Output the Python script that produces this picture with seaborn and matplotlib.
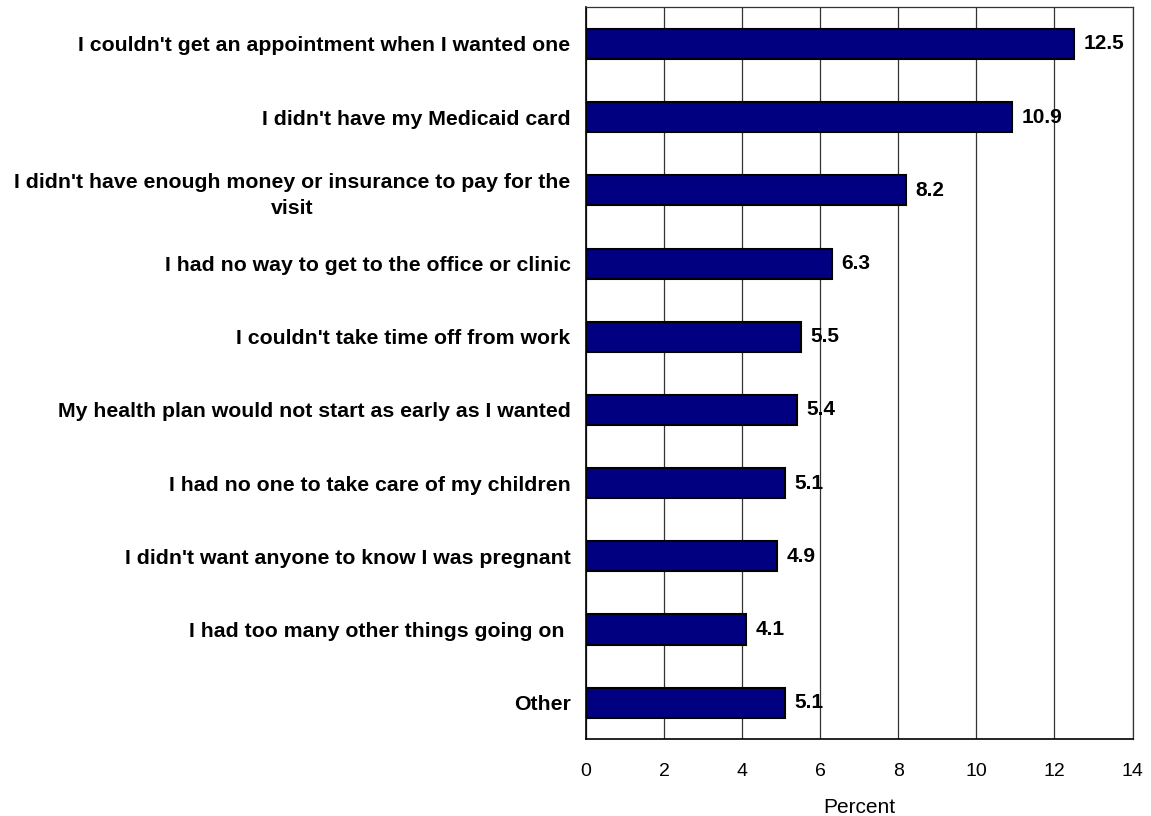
import seaborn as sns
import matplotlib.pyplot as plt
import pandas as pd
import numpy as np

reasons = [
    "I couldn't get an appointment when I wanted one",
    "I didn't have my Medicaid card",
    "I didn't have enough money or insurance to pay for the\nvisit",
    "I had no way to get to the office or clinic",
    "I couldn't take time off from work",
    "My health plan would not start as early as I wanted",
    "I had no one to take care of my children",
    "I didn't want anyone to know I was pregnant",
    "I had too many other things going on ",
    "Other",
]
percents = [12.5, 10.9, 8.2, 6.3, 5.5, 5.4, 5.1, 4.9, 4.1, 5.1]
x_ticks = [0, 2, 4, 6, 8, 10, 12, 14]

df = pd.DataFrame({'reason': reasons, 'percent': percents})

sns.set_style('white')
plt.rcParams['font.family'] = ['Liberation Sans', 'DejaVu Sans']
plt.rcParams['text.color'] = 'black'
plt.rcParams['axes.labelcolor'] = 'black'
plt.rcParams['xtick.color'] = 'black'
plt.rcParams['ytick.color'] = 'black'

fig = plt.figure(figsize=(11.51, 8.16), dpi=100)
ax = fig.add_axes([0.509, 0.094, 0.475, 0.897])

sns.barplot(data=df, x='percent', y='reason', orient='h', color='#000080',
            saturation=1, edgecolor='black', linewidth=1.5, width=0.41, ax=ax, zorder=3)

ax.set_xlim(0, 14)
ax.set_ylim(len(reasons) - 0.5, -0.5)
ax.set_xticks(x_ticks)
ax.set_xticklabels([str(t) for t in x_ticks], fontsize=14)
ax.xaxis.grid(True, color='#333333', linewidth=0.9, zorder=0)
ax.set_axisbelow(True)

ax.set_yticks(range(len(reasons)))
ax.set_yticklabels(reasons, fontsize=15.3, fontweight='bold', multialignment='center',
                   linespacing=1.45)
ax.tick_params(axis='y', length=0, pad=11)
ax.set_yticks(np.arange(-0.5, len(reasons), 1), minor=True)
ax.tick_params(axis='y', which='minor', length=7, width=1, color='black', direction='out')
ax.tick_params(axis='x', length=5, width=1, color='black', direction='out', pad=12)

for i, v in enumerate(percents):
    ax.text(v + 0.25, i, f'{v:.1f}', va='center', ha='left', fontsize=15, fontweight='bold')

ax.set_xlabel('Percent', fontsize=15, labelpad=13)
ax.set_ylabel('')

for side in ['left', 'bottom']:
    ax.spines[side].set_color('black')
    ax.spines[side].set_linewidth(1.2)
for side in ['top', 'right']:
    ax.spines[side].set_color('#333333')
    ax.spines[side].set_linewidth(0.9)

plt.savefig('out.png', dpi=100)
